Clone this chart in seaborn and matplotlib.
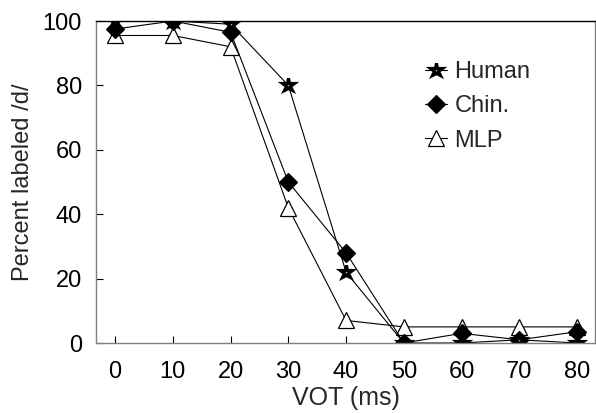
import matplotlib
matplotlib.use("Agg")
import matplotlib.pyplot as plt
from matplotlib.markers import MarkerStyle
import seaborn as sns
import pandas as pd

# Identification curves for the /d/-/t/ VOT continuum
vot = [0, 10, 20, 30, 40, 50, 60, 70, 80]
human = [100, 100, 99, 80, 22, 0, 0, 1, 0]
chin = [97.5, 100, 96.5, 50, 28, 0, 3, 1, 3.5]
mlp = [95.5, 95.5, 92, 42, 7, 5, 5, 5, 5]
series_names = ["Human", "Chin.", "MLP"]
y_ticks = [0, 20, 40, 60, 80, 100]

sns.set_style("white")
plt.rcParams["font.family"] = ["Liberation Sans", "DejaVu Sans"]

fig = plt.figure(figsize=(5.96, 4.13), dpi=100)
ax = fig.add_axes([96 / 596, 70 / 413, 499 / 596, 322 / 413])

df = pd.DataFrame({"VOT": vot, "Human": human, "Chin.": chin, "MLP": mlp})

# MLP drawn first so the filled markers sit on top of it
sns.lineplot(data=df, x="VOT", y="MLP", ax=ax, color="black", lw=0.8,
             marker="^", ms=11, mfc="white", mec="black", mew=0.9,
             label="MLP")
sns.lineplot(data=df, x="VOT", y="Chin.", ax=ax, color="black", lw=0.8,
             marker="D", ms=9.5, mfc="black", mec="black", mew=0.9,
             label="Chin.")
# bold outlined star with a small hollow centre
star = MarkerStyle("*", joinstyle="miter")
sns.lineplot(data=df, x="VOT", y="Human", ax=ax, color="black", lw=0.8,
             marker=star, ms=9.5, mfc="white", mec="black", mew=2.3,
             label="Human")

ax.set_xlim(-3.3, 83.1)
ax.set_ylim(0, 100)
ax.set_xticks(vot)
ax.set_yticks(y_ticks)
ax.tick_params(axis="both", direction="in", length=5, width=0.8,
               colors="black", labelsize=17)
ax.tick_params(axis="y", pad=10, left=True)
ax.tick_params(axis="x", pad=13, bottom=True)

for side in ["left", "bottom", "right"]:
    ax.spines[side].set_color("#808080")
    ax.spines[side].set_linewidth(1.0)
ax.spines["top"].set_color("black")
ax.spines["top"].set_linewidth(1.0)

ax.set_xlabel("VOT (ms)", fontsize=18, labelpad=2)
ax.set_ylabel("Percent labeled /d/", fontsize=17, labelpad=6)

handles, labels = ax.get_legend_handles_labels()
order = [labels.index(n) for n in series_names]
ax.legend([handles[i] for i in order], [labels[i] for i in order],
          loc="upper left", bbox_to_anchor=(0.64, 0.905), frameon=False,
          fontsize=17, handlelength=0.95, handletextpad=0.3,
          labelspacing=0.52, borderaxespad=0)

fig.savefig("out.png", dpi=100)
